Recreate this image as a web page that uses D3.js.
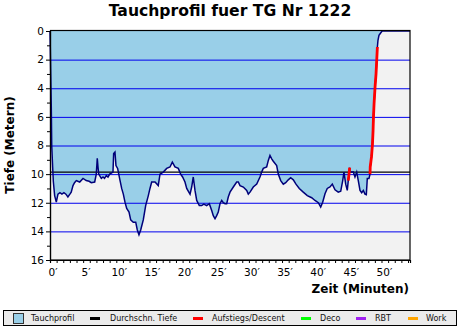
<!DOCTYPE html>
<html>
<head>
<meta charset="utf-8">
<script src="https://cdn.jsdelivr.net/npm/d3@7"></script>
<style>
html,body{margin:0;padding:0;background:#fff;}
svg{display:block;font-family:"DejaVu Sans",sans-serif;}
</style>
</head>
<body>
<svg id="chart" width="460" height="330"></svg>
<script>
// ---- data ----
const chartTitle = "Tauchprofil fuer TG Nr 1222";
const times = [0,0.2,0.26,0.4,0.5,0.7,0.95,1.2,1.5,1.8,2.1,2.4,2.7,3.0,3.2,3.47,3.7,3.97,4.2,4.48,4.98,5.47,5.9,6.23,6.74,6.98,7.09,7.13,7.24,7.35,7.74,8.0,8.22,8.49,8.75,9.0,9.5,9.6,9.8,9.95,10.2,10.56,10.81,11.06,11.31,11.57,11.92,12.17,12.56,12.93,13.17,13.42,13.68,14.07,14.43,14.83,15.08,15.34,15.84,16.33,16.59,17.09,17.6,18.1,18.45,18.85,19.35,19.71,20.0,20.36,20.62,21.12,21.37,21.61,21.87,22.13,22.52,22.88,23.2,23.63,24.03,24.39,24.63,24.89,25.14,25.38,25.64,25.9,26.14,26.4,26.65,26.89,27.15,27.65,28.16,28.4,28.66,29.16,29.67,29.91,30.17,30.66,31.18,31.67,31.93,32.17,32.68,32.93,33.18,33.44,33.68,34.19,34.43,34.8,35.19,35.55,35.94,36.3,36.7,37.1,37.6,38.2,38.81,39.47,39.97,40.47,40.83,41.13,41.48,41.82,42.23,42.58,42.99,43.48,43.85,44.15,44.34,44.6,44.84,44.99,45.1,45.2,45.25,45.75,46.0,46.26,46.5,46.76,47.01,47.26,47.51,47.71,47.86,48.11,48.27,48.3,48.49,48.64,48.73,48.79,48.88,49.03,49.18,49.28,49.38,49.47,49.62,49.87,50.1,54.3];
const depths = [0,5.5,8.0,9.5,10.5,11.5,11.96,11.4,11.3,11.4,11.3,11.4,11.6,11.4,11.26,10.8,10.6,10.45,10.5,10.55,10.3,10.45,10.5,10.6,10.55,10.0,9.2,8.9,9.5,10.0,10.3,10.2,10.3,10.1,10.2,10.0,9.86,8.57,8.46,9.4,9.6,10.44,11.0,11.4,11.96,12.4,12.65,13.2,13.36,13.36,13.9,14.24,13.9,13.2,12.2,11.5,11.0,10.55,10.55,10.8,10.0,9.86,9.6,9.5,9.16,9.5,9.6,10.0,10.2,10.55,11.0,11.4,10.9,10.2,11.14,11.84,12.2,12.2,12.1,12.2,12.07,12.54,12.9,13.12,12.9,12.65,12.07,11.84,12.0,12.07,12.07,11.6,11.26,10.9,10.55,10.55,10.8,10.9,11.14,11.4,11.26,10.9,10.7,10.2,9.86,9.6,9.5,9.04,8.7,8.93,9.1,9.4,10.0,10.45,10.7,10.6,10.4,10.25,10.4,10.7,11.0,11.26,11.5,11.65,11.84,12.0,12.3,11.96,11.37,11.0,10.9,10.7,11.1,11.26,11.2,10.45,9.86,10.7,11.14,10.45,10.0,9.55,9.86,9.86,10.2,9.86,10.45,11.14,11.3,11.14,11.4,11.44,10.3,10.3,10.0,9.5,8.8,7.9,6.94,6.0,5.08,3.9,2.98,2.05,1.12,0.65,0.3,0.14,0,0];
const ascentRanges = [[44.99,45.2],[48.27,49.38]];
const avgDepth = 9.86;
const xMax = 54.3;
const yMax = 16;
const xLabelTicks = [0,5,10,15,20,25,30,35,40,45,50];
const yLabelTicks = [0,2,4,6,8,10,12,14,16];
const gridDepths = [2,4,6,8,10,12,14];
const legendItems = ["Tauchprofil","Durchschn. Tiefe","Aufstiegs/Descent","Deco","RBT","Work"];
const legendColors = ["#99cfe8","#000000","#ff0000","#00ff00","#a020f0","#ffa500"];

// ---- drawing ----
const svg = d3.select("#chart");
const L = 50, R = 410, T = 31, B = 260;
const x = d3.scaleLinear().domain([0, xMax]).range([L, R]);
const y = d3.scaleLinear().domain([0, yMax]).range([T, B]);
const pts = times.map((t,i)=>({t, d: depths[i]}));

svg.append("text").attr("x",230).attr("y",16).attr("text-anchor","middle")
  .attr("font-weight","bold").attr("font-size",15.6).text(chartTitle);

svg.append("rect").attr("x",L).attr("y",T).attr("width",R-L).attr("height",B-T).attr("fill","#f2f2f2");

const area = d3.area().x(p=>x(p.t)).y0(y(0)).y1(p=>y(p.d));
svg.append("path").datum(pts.filter(p=>p.t<=50.1)).attr("d",area).attr("fill","#99cfe8");

svg.selectAll(".grid").data(gridDepths).enter().append("line")
  .attr("x1",L).attr("x2",R).attr("y1",d=>y(d)+0.5).attr("y2",d=>y(d)+0.5)
  .attr("stroke","#0000ee").attr("stroke-width",1);

svg.append("line").attr("x1",L).attr("x2",R).attr("y1",y(avgDepth)).attr("y2",y(avgDepth))
  .attr("stroke","#000").attr("stroke-width",1.3);

const line = d3.line().x(p=>x(p.t)).y(p=>y(p.d));
svg.append("path").datum(pts).attr("d",line).attr("fill","none")
  .attr("stroke","#00007a").attr("stroke-width",1.5);

ascentRanges.forEach(r=>{
  svg.append("path").datum(pts.filter(p=>p.t>=r[0]-1e-9 && p.t<=r[1]+1e-9)).attr("d",line)
    .attr("fill","none").attr("stroke","#ff0000").attr("stroke-width",2.8);
});

// frame
svg.append("rect").attr("x",L+0.5).attr("y",T-0.5).attr("width",R-L-0.5).attr("height",B-T+0.5)
  .attr("fill","none").attr("stroke","#000").attr("stroke-width",1.2);

// x axis
const xAxis = svg.append("g").attr("transform",`translate(0,${B})`);
xAxis.call(d3.axisBottom(x).tickValues(d3.range(0,55,1)).tickSize(3).tickFormat(""))
  .call(g=>g.select(".domain").attr("stroke-width",1.2));
xAxis.selectAll("text.lbl").data(xLabelTicks).enter().append("text").attr("class","lbl")
  .attr("x",d=>x(d)+3).attr("y",16).attr("text-anchor","middle")
  .attr("font-family","DejaVu Sans").attr("font-size",10.5).attr("fill","#000")
  .text(d=>d+"′");

// y axis
const yAxis = svg.append("g").attr("transform",`translate(${L},0)`);
yAxis.call(d3.axisLeft(y).tickValues(d3.range(0,17,1)).tickSize(3).tickFormat(""))
  .call(g=>g.select(".domain").attr("stroke-width",1.2));
yAxis.selectAll("line").filter(d=>d%2===0).attr("x2",-4);
yAxis.selectAll("text.lbl").data(yLabelTicks).enter().append("text").attr("class","lbl")
  .attr("x",-6).attr("y",d=>y(d)).attr("dy","0.36em").attr("text-anchor","end")
  .attr("font-family","DejaVu Sans").attr("font-size",10.5).attr("fill","#000")
  .text(d=>d);

svg.append("text").attr("transform","translate(14,145) rotate(-90)").attr("text-anchor","middle")
  .attr("font-weight","bold").attr("font-size",12).text("Tiefe (Metern)");
svg.append("text").attr("x",409).attr("y",293).attr("text-anchor","end")
  .attr("font-weight","bold").attr("font-size",12).text("Zeit (Minuten)");

// legend
svg.append("rect").attr("x",3.5).attr("y",310.5).attr("width",453).attr("height",15)
  .attr("fill","#ebebeb").attr("stroke","#000").attr("stroke-width",1);
const legX = [13,90,193,301,356,408];
const legTX = [31,110,212,320,375,426];
legendItems.forEach((name,i)=>{
  if(i===0){
    svg.append("rect").attr("x",legX[i]+0.5).attr("y",313.5).attr("width",10).attr("height",10)
      .attr("fill",legendColors[i]).attr("stroke","#333").attr("stroke-width",1);
  } else {
    svg.append("rect").attr("x",legX[i]).attr("y",317).attr("width",10).attr("height",3).attr("fill",legendColors[i]);
  }
  svg.append("text").attr("x",legTX[i]).attr("y",320.5).attr("font-size",8).attr("fill","#111").text(name);
});
</script>
</body>
</html>
